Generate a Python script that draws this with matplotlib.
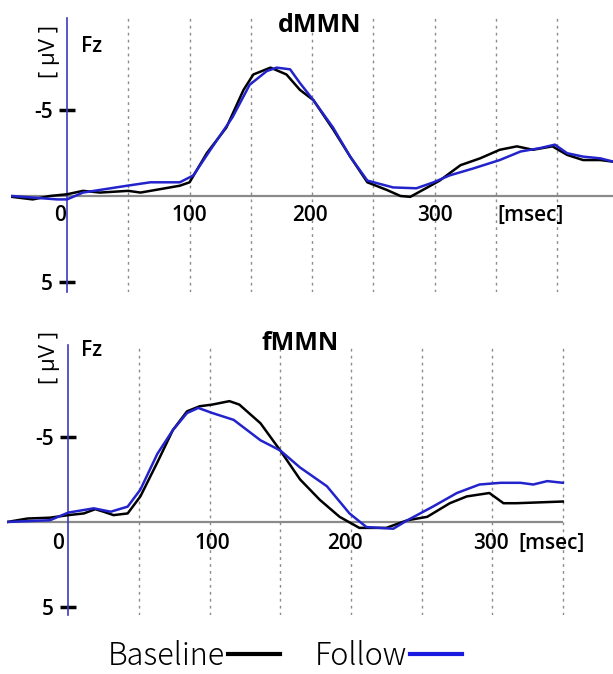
import matplotlib.pyplot as plt
import numpy as np
from matplotlib.lines import Line2D

plt.rcParams['font.family'] = ['Open Sans', 'DejaVu Sans']

# dMMN at Fz (top panel): time [msec], amplitude [uV]
dmmn_base_t = [-45, -28, -14, 0, 13, 27, 50, 60, 76, 92, 100, 114, 130, 144, 152, 166, 179, 190,
               201, 217, 231, 245, 261, 272, 280, 294, 304, 321, 337, 353, 367, 380, 396, 408,
               421, 435, 446]
dmmn_base_v = [0.05, 0.2, 0.0, -0.1, -0.3, -0.2, -0.3, -0.2, -0.4, -0.6, -0.8, -2.5, -4.0, -6.2,
               -7.1, -7.5, -7.1, -6.2, -5.6, -3.9, -2.3, -0.8, -0.35, 0.0, 0.05, -0.5, -0.9, -1.8,
               -2.2, -2.7, -2.9, -2.7, -2.9, -2.4, -2.1, -2.1, -2.0]
dmmn_follow_t = [-45, -8, 0, 13, 49, 68, 92, 103, 117, 135, 149, 163, 171, 182, 190, 201, 217, 231,
                 245, 266, 285, 299, 312, 331, 353, 370, 386, 398, 408, 421, 435, 446]
dmmn_follow_v = [0.0, 0.2, 0.2, -0.2, -0.6, -0.8, -0.8, -1.2, -2.7, -4.6, -6.5, -7.3, -7.5, -7.4,
                 -6.6, -5.6, -4.0, -2.3, -0.9, -0.5, -0.45, -0.8, -1.2, -1.6, -2.1, -2.6, -2.8,
                 -3.0, -2.5, -2.3, -2.2, -2.0]

# fMMN at Fz (bottom panel)
fmmn_base_t = [-43, -29, -13, 0, 11, 19, 25, 32, 42, 51, 63, 74, 84, 93, 102, 114, 121, 136, 150,
               164, 178, 192, 206, 225, 240, 254, 270, 282, 298, 308, 317, 350]
fmmn_base_v = [0.0, -0.2, -0.25, -0.4, -0.5, -0.75, -0.6, -0.4, -0.5, -1.5, -3.5, -5.4, -6.5, -6.8,
               -6.9, -7.1, -6.9, -5.8, -4.2, -2.5, -1.3, -0.3, 0.35, 0.35, -0.1, -0.3, -1.1, -1.5,
               -1.7, -1.1, -1.1, -1.2]
fmmn_follow_t = [-43, -13, 0, 18, 30, 42, 51, 63, 74, 84, 92, 102, 117, 136, 150, 164, 183, 199,
                 211, 230, 240, 258, 275, 291, 306, 320, 329, 339, 350]
fmmn_follow_v = [0.0, -0.1, -0.55, -0.8, -0.6, -0.9, -1.9, -4.0, -5.4, -6.4, -6.7, -6.4, -6.0,
                 -4.8, -4.2, -3.2, -2.1, -0.5, 0.3, 0.4, -0.1, -0.9, -1.7, -2.2, -2.3, -2.3, -2.2,
                 -2.4, -2.3]

y_ticks = [-5, 5]
y_tick_labels = ["-5", "5"]
legend_labels = ["Baseline", "Follow"]

W, H = 613, 674
BLUE = "#2323cc"
CJK = ["Noto Sans CJK JP", "DejaVu Sans"]
fig = plt.figure(figsize=(W / 100, H / 100), dpi=100)


def px_axes(x0, y0, x1, y1):
    return fig.add_axes([x0 / W, 1 - y1 / H, (x1 - x0) / W, (y1 - y0) / H])


def draw_panel(ax, xlim, ylim, t_end, grid_end, base, follow, xlabels):
    ax.set_xlim(*xlim)
    ax.set_ylim(*ylim)
    for s in ["top", "right", "bottom"]:
        ax.spines[s].set_visible(False)
    ax.spines["left"].set_position(("data", 0))
    ax.spines["left"].set_color("#3a3ac0")
    ax.spines["left"].set_linewidth(1.2)
    ax.set_xticks([])
    ax.set_yticks(y_ticks)
    ax.set_yticklabels(y_tick_labels, fontsize=15, fontweight="semibold")
    ax.tick_params(axis="y", direction="inout", length=11, width=2.5, color="black", pad=5)

    for g in np.arange(50, grid_end + 1, 50):
        ax.axvline(g, color="#8c8c8c", lw=1.0, ls=(0, (2, 3)), zorder=1)
    ax.hlines(0, xlim[0], t_end, color="#8a8a8a", lw=1.6, zorder=2)

    ax.plot(base[0], base[1], color="black", lw=1.8, zorder=3)
    ax.plot(follow[0], follow[1], color=BLUE, lw=1.8, zorder=4)

    for x, y, txt in xlabels:
        ax.text(x, y, txt, ha="center", va="center", fontsize=15, fontweight="semibold",
                clip_on=False)


ax1 = px_axes(11, 18, 613, 292)
draw_panel(ax1, (-45.7, 445.4), (5.61, -10.4), 445.4, 400,
           (dmmn_base_t, dmmn_base_v), (dmmn_follow_t, dmmn_follow_v),
           [(-6, 1.15, "0"), (100, 1.15, "100"), (198, 1.15, "200"), (300, 1.15, "300"),
            (378, 1.15, "[msec]")])

ax2 = px_axes(7, 345, 613, 615)
draw_panel(ax2, (-43.4, 385.5), (5.47, -10.4), 350, 350,
           (fmmn_base_t, fmmn_base_v), (fmmn_follow_t, fmmn_follow_v),
           [(-7, 1.25, "0"), (102, 1.25, "100"), (196, 1.25, "200"), (299, 1.25, "300"),
            (342, 1.25, "[msec]")])

for title, tx, ty, fy, uy in [("dMMN", 320, 25, 46, 52), ("fMMN", 300, 343, 350, 358)]:
    fig.text(tx / W, 1 - ty / H, title, ha="center", va="center", fontsize=18, fontweight="bold")
    fig.text(92 / W, 1 - fy / H, "Fz", ha="center", va="center", fontsize=15, fontweight="semibold")
    fig.text(49 / W, 1 - uy / H, "[ μV ]", ha="center", va="center", fontsize=16, rotation=90)

handles = [Line2D([], [], color="black", lw=3), Line2D([], [], color="#1a1ae0", lw=3)]
fig.legend(handles, legend_labels, ncol=2, markerfirst=False, frameon=False, loc="center",
           bbox_to_anchor=(285 / W, 1 - 656 / H), handlelength=1.7,
           handletextpad=0.1, columnspacing=1.15,
           prop={"family": CJK, "size": 22, "weight": "light"})

fig.savefig("out.png", dpi=100)
